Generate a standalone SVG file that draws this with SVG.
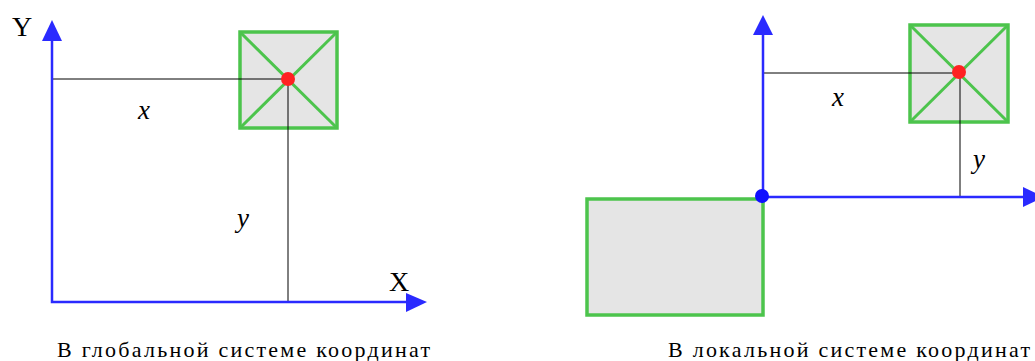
<svg xmlns="http://www.w3.org/2000/svg" width="1035" height="361" viewBox="0 0 1035 361">
<style>
.axis{stroke:#2a2aff;stroke-width:2.5;fill:none}
.head{fill:#2a2aff}
.guide{stroke:#000;stroke-width:1;fill:none}
.obj{fill:#e5e5e5;stroke:#4cc44c;stroke-width:3.5}
.diag{stroke:#4cc44c;stroke-width:3}
.pt{fill:#ff2222}
text{font-family:'Liberation Serif','Times New Roman','DejaVu Serif',serif;fill:#000}
.lbl{font-size:28px}
.var{font-size:27px;font-style:italic}
.cap{font-size:22px}
</style>
<rect width="1035" height="361" fill="#fff"/>
<g id="global-object">
<rect class="obj" x="240" y="32" width="97" height="96"/>
<line class="diag" x1="240" y1="32" x2="337" y2="128"/>
<line class="diag" x1="337" y1="32" x2="240" y2="128"/>
</g>
<g id="local-parent">
<rect class="obj" x="587" y="199" width="176" height="116"/>
</g>
<g id="local-object">
<rect class="obj" x="910" y="25" width="98" height="97"/>
<line class="diag" x1="910" y1="25" x2="1008" y2="122"/>
<line class="diag" x1="1008" y1="25" x2="910" y2="122"/>
</g>
<g id="connectors">
<line class="guide" x1="52" y1="79" x2="288" y2="79"/>
<line class="guide" x1="288" y1="79" x2="288" y2="302"/>
<line class="guide" x1="763" y1="73" x2="959" y2="73"/>
<line class="guide" x1="960" y1="72" x2="960" y2="197"/>
<polyline class="axis" points="52,40 52,302 407,302"/>
<polygon class="head" points="52,20 42,41 62,41"/>
<polygon class="head" points="427,302 406,293 406,312"/>
<polyline class="axis" points="763,34 763,197 1024,197"/>
<polygon class="head" points="763,15 753,35 773,35"/>
<polygon class="head" points="1044,197 1023,187 1023,207"/>
</g>
<g id="points">
<circle class="pt" cx="288" cy="79" r="7"/>
<circle class="pt" cx="959" cy="72" r="7"/>
<circle cx="762" cy="196" r="7" fill="#1010ff"/>
</g>
<g id="labels">
<text class="lbl" x="12" y="36">Y</text>
<text class="lbl" x="389" y="291">X</text>
<text class="var" x="138" y="119">x</text>
<text class="var" x="237" y="227">y</text>
<text class="var" x="832" y="106">x</text>
<text class="var" x="973" y="168">y</text>
<text class="cap" x="57" y="357" textLength="373" lengthAdjust="spacing">В глобальной системе координат</text>
<text class="cap" x="668" y="357" textLength="362" lengthAdjust="spacing">В локальной системе координат</text>
</g>
</svg>
